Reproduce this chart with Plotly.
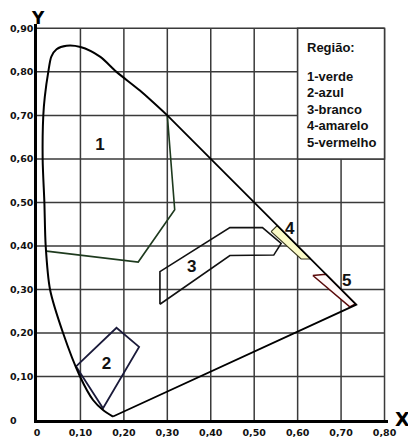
import plotly.graph_objects as go

# Spectral locus (curved part, from (0.30,0.70) around the left to the minimum)
locus_curve_x = [0.300, 0.237, 0.183, 0.145, 0.100, 0.068, 0.045, 0.033, 0.026, 0.018, 0.0145,
                 0.013, 0.017, 0.020, 0.030, 0.060, 0.099, 0.129, 0.152, 0.175]
locus_curve_y = [0.700, 0.757, 0.800, 0.835, 0.857, 0.860, 0.852, 0.835, 0.800, 0.743, 0.700,
                 0.600, 0.500, 0.400, 0.300, 0.200, 0.100, 0.046, 0.023, 0.008]
# Straight parts: purple line and red edge
locus_line_x = [0.175, 0.735, 0.300]
locus_line_y = [0.008, 0.265, 0.700]

# Regions
r1_x = [0.022, 0.233, 0.317, 0.300]
r1_y = [0.388, 0.363, 0.483, 0.700]
r2_x = [0.090, 0.183, 0.235, 0.152, 0.090]
r2_y = [0.123, 0.212, 0.168, 0.027, 0.123]
r3_x = [0.283, 0.283, 0.444, 0.519, 0.562, 0.545, 0.444, 0.283]
r3_y = [0.266, 0.341, 0.442, 0.442, 0.406, 0.379, 0.378, 0.266]
r4_x = [0.539, 0.553, 0.630, 0.608, 0.539]
r4_y = [0.433, 0.447, 0.370, 0.370, 0.433]
r5_x = [0.635, 0.665, 0.733, 0.720, 0.635]
r5_y = [0.332, 0.335, 0.267, 0.260, 0.332]

region_labels = ["1", "2", "3", "4", "5"]
label_x = [0.145, 0.160, 0.356, 0.582, 0.713]
label_y = [0.630, 0.126, 0.349, 0.437, 0.318]

legend_title = "Região:"
legend_items = ["1-verde", "2-azul", "3-branco", "4-amarelo", "5-vermelho"]

x_ticks = [0, 0.1, 0.2, 0.3, 0.4, 0.5, 0.6, 0.7, 0.8]
x_ticktext = ["0", "0,10", "0,20", "0,30", "0,40", "0,50", "0,60", "0,70", "0,80"]
y_ticks = [0, 0.1, 0.2, 0.3, 0.4, 0.5, 0.6, 0.7, 0.8, 0.9]
y_ticktext = ["0", "0,10", "0,20", "0,30", "0,40", "0,50", "0,60", "0,70", "0,80", "0,90"]

fig = go.Figure()

# Grid lines (built from tick values)
gx, gy = [], []
for v in x_ticks[1:]:
    gx += [v, v, None]
    gy += [0, y_ticks[-1], None]
for v in y_ticks[1:]:
    gx += [0, x_ticks[-1], None]
    gy += [v, v, None]
fig.add_trace(go.Scatter(x=gx, y=gy, mode="lines", line=dict(color="#3a3a3a", width=1.5),
                         hoverinfo="skip", connectgaps=False))

# Region fills / outlines
fig.add_trace(go.Scatter(x=r4_x, y=r4_y, mode="lines", fill="toself", fillcolor="#fbfbc8",
                         line=dict(color="#3a3a20", width=1.2), hoverinfo="skip"))
fig.add_trace(go.Scatter(x=r5_x, y=r5_y, mode="lines", fill="toself", fillcolor="#fff8f8",
                         line=dict(color="#5a0a0a", width=1.5), hoverinfo="skip"))
fig.add_trace(go.Scatter(x=r1_x, y=r1_y, mode="lines",
                         line=dict(color="#1e3a1e", width=1.6), hoverinfo="skip"))
fig.add_trace(go.Scatter(x=r2_x, y=r2_y, mode="lines",
                         line=dict(color="#1a1a3a", width=1.8), hoverinfo="skip"))
fig.add_trace(go.Scatter(x=r3_x, y=r3_y, mode="lines",
                         line=dict(color="#111111", width=1.6), hoverinfo="skip"))

# Spectral locus
fig.add_trace(go.Scatter(x=locus_curve_x, y=locus_curve_y, mode="lines",
                         line=dict(color="#000000", width=2, shape="spline", smoothing=0.8),
                         hoverinfo="skip"))
fig.add_trace(go.Scatter(x=locus_line_x, y=locus_line_y, mode="lines",
                         line=dict(color="#000000", width=1.8), hoverinfo="skip"))

# Region numbers
fig.add_trace(go.Scatter(x=label_x, y=label_y, mode="text", text=region_labels,
                         textfont=dict(family="Liberation Sans, Arial", size=17, color="#111111", weight="bold"),
                         hoverinfo="skip"))

# Legend box (white, above the grid)
shapes = [dict(type="rect", x0=0.6, x1=0.8, y0=0.6, y1=0.9, xref="x", yref="y",
               fillcolor="white", line=dict(color="#3a3a3a", width=1.5), layer="above")]

annotations = []
annotations.append(dict(x=0.616, y=0.857, xref="x", yref="y", text=legend_title, showarrow=False,
                        xanchor="left", yanchor="middle",
                        font=dict(family="Liberation Sans, Arial", size=13, color="#111111", weight="bold")))
for i, item in enumerate(legend_items):
    annotations.append(dict(x=0.616, y=0.790 - i * 0.0379, xref="x", yref="y", text=item,
                            showarrow=False, xanchor="left", yanchor="middle",
                            font=dict(family="Liberation Sans, Arial", size=13, color="#111111", weight="bold")))
# Y tick labels (left aligned)
for v, t in zip(y_ticks, y_ticktext):
    annotations.append(dict(x=0, y=v, xref="paper", yref="y", text=t, showarrow=False,
                            xanchor="left", yanchor="middle", xshift=-29,
                            font=dict(family="DejaVu Sans", size=9.5, color="#111111", weight="bold")))
# Axis titles
annotations.append(dict(x=0, y=1, xref="paper", yref="paper", text="Y", showarrow=False,
                        xanchor="center", yanchor="bottom", xshift=1, yshift=-6,
                        font=dict(family="DejaVu Sans", size=17, color="#000000", weight="bold")))
annotations.append(dict(x=1, y=0, xref="paper", yref="paper", text="X", showarrow=False,
                        xanchor="left", yanchor="middle", xshift=5, yshift=1,
                        font=dict(family="DejaVu Sans", size=19, color="#000000", weight="bold")))

# The page places the figure 8px from the window's top-left corner
fig.update_layout(
    template="none",
    width=408, height=431,
    margin=dict(l=29, r=28, t=16, b=19, pad=0),
    paper_bgcolor="white", plot_bgcolor="white",
    showlegend=False,
    shapes=shapes,
    annotations=annotations,
)
fig.update_xaxes(range=[0, 0.808], showgrid=False, zeroline=False, automargin=False,
                 showline=True, linecolor="#000000", linewidth=3,
                 tickmode="array", tickvals=x_ticks, ticktext=x_ticktext,
                 ticks="outside", ticklen=2, tickcolor="white",
                 tickfont=dict(family="DejaVu Sans", size=9.5, color="#111111", weight="bold"))
fig.update_yaxes(range=[0, 0.91], showgrid=False, zeroline=False, automargin=False,
                 showline=True, linecolor="#000000", linewidth=3,
                 showticklabels=False, ticks="")

fig.write_html("out.html")
